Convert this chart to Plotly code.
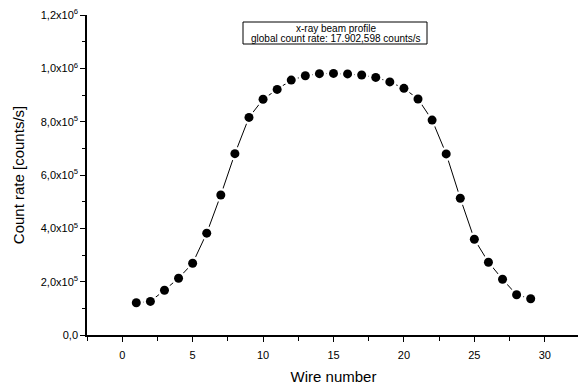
import plotly.graph_objects as go

wire = list(range(1, 30))
rate = [1.21e5, 1.26e5, 1.68e5, 2.13e5, 2.69e5, 3.82e5, 5.25e5, 6.80e5, 8.16e5, 8.84e5,
        9.21e5, 9.56e5, 9.72e5, 9.80e5, 9.81e5, 9.79e5, 9.75e5, 9.66e5, 9.49e5, 9.25e5,
        8.85e5, 8.06e5, 6.79e5, 5.13e5, 3.59e5, 2.73e5, 2.09e5, 1.51e5, 1.36e5]

y_tickvals = [0, 2e5, 4e5, 6e5, 8e5, 1e6, 1.2e6]
y_ticktext = ["0,0", "2,0x10<sup>5</sup>", "4,0x10<sup>5</sup>", "6,0x10<sup>5</sup>",
              "8,0x10<sup>5</sup>", "1,0x10<sup>6</sup>", "1,2x10<sup>6</sup>"]
x_tickvals = [0, 5, 10, 15, 20, 25, 30]

legend_lines = ["x-ray beam profile", "global count rate: 17.902,598 counts/s"]

# the page body has an 8px default margin; the figure is sized to fit the window
W, H = 578, 377
L, R, T, B = 79, 6, 7, 50
PW, PH = W - L - R, H - T - B

fig = go.Figure()
fig.add_trace(go.Scatter(x=wire, y=rate, mode="lines", line=dict(color="black", width=1),
                         hoverinfo="skip", showlegend=False))
fig.add_trace(go.Scatter(x=wire, y=rate, mode="markers", marker=dict(color="white", size=14),
                         hoverinfo="skip", showlegend=False))
fig.add_trace(go.Scatter(x=wire, y=rate, mode="markers", marker=dict(color="black", size=9),
                         showlegend=False))

font = "Liberation Sans, Arial, sans-serif"
fig.update_layout(
    width=W, height=H,
    margin=dict(l=L, r=R, t=T, b=B),
    paper_bgcolor="white", plot_bgcolor="white",
    font=dict(family=font, color="black"),
    xaxis=dict(range=[-2.5, 32.5], tickvals=x_tickvals, showgrid=False, zeroline=False,
               showline=True, linecolor="black", linewidth=1.5, ticks="outside", ticklen=5,
               tickcolor="black", tickfont=dict(size=11), automargin=False,
               ticklabelstandoff=4, ticklabeloverflow="allow",
               minor=dict(dtick=2.5, tick0=0, ticks="outside", ticklen=4, tickcolor="black"),
               title=dict(text="Wire number", font=dict(size=15), standoff=14)),
    yaxis=dict(range=[0, 1.2e6], tickvals=y_tickvals, ticktext=y_ticktext, showgrid=False,
               zeroline=False, showline=True, linecolor="black", linewidth=1.5, ticks="outside",
               ticklen=5, tickcolor="black", tickfont=dict(size=11), automargin=False,
               ticklabeloverflow="allow",
               minor=dict(dtick=1e5, tick0=0, ticks="outside", ticklen=3, tickcolor="black"),
               title=dict(text="Count rate [counts/s]", font=dict(size=15), standoff=12)),
)

def px(x):
    return (x - 8 - L) / PW

def py(y):
    return (H - B + 8 - y) / PH

fig.add_shape(type="rect", xref="paper", yref="paper",
              x0=px(243), x1=px(427), y0=py(44), y1=py(22),
              line=dict(color="black", width=1), fillcolor="white", layer="below")
for line_text, yc in zip(legend_lines, [29, 39]):
    fig.add_annotation(xref="paper", yref="paper", x=px(336), y=py(yc),
                       xanchor="center", yanchor="middle",
                       text=line_text, showarrow=False,
                       font=dict(size=10, family=font), align="center")

fig.write_html("out.html")
